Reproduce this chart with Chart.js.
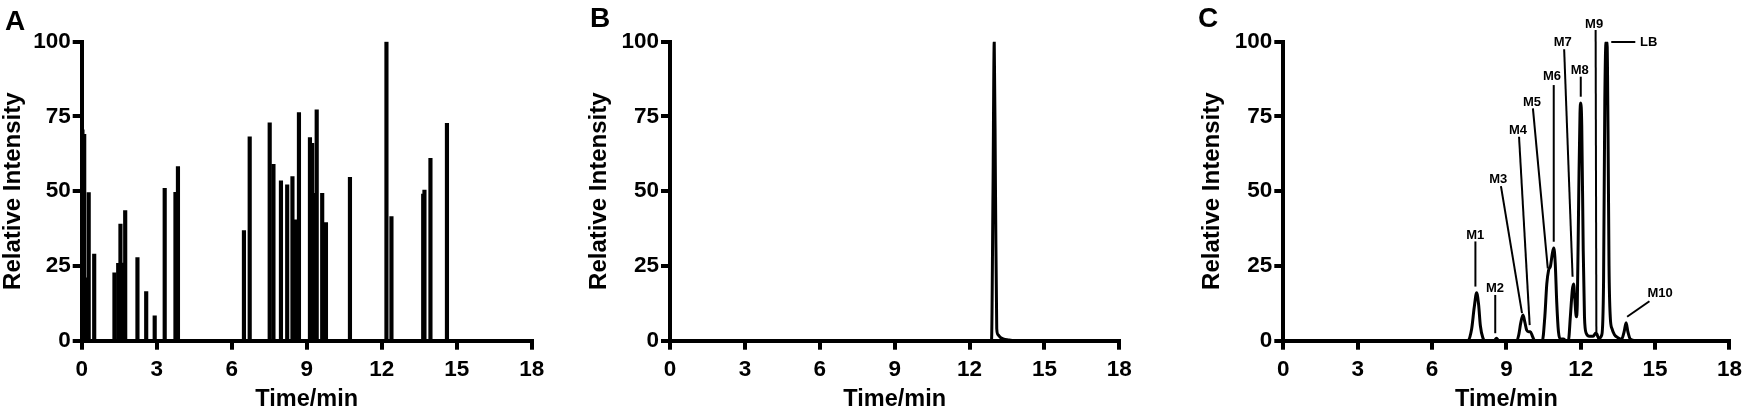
<!DOCTYPE html>
<html><head><meta charset="utf-8">
<script src="https://cdn.jsdelivr.net/npm/chart.js@4/dist/chart.umd.min.js"></script>
<style>
html,body{margin:0;padding:0;background:#fff;width:1749px;height:412px;overflow:hidden}
canvas{position:absolute;top:0}
</style></head><body>
<canvas id="cA" width="580" height="412" style="left:0px"></canvas>
<canvas id="cB" width="580" height="412" style="left:580px"></canvas>
<canvas id="cC" width="589" height="412" style="left:1160px"></canvas>
<script>
// ---------- data ----------
const xTicks = [0, 3, 6, 9, 12, 15, 18];
const yTicks = [0, 25, 50, 75, 100];
const xTitle = 'Time/min';
const yTitle = 'Relative Intensity';
const panelNames = ['A', 'B', 'C'];

// Panel A: spike chromatogram (time, relative intensity)
const aTimes   = [0.03, 0.10, 0.17, 0.28, 0.50, 1.31, 1.46, 1.55, 1.64, 1.74, 2.23, 2.58, 2.92, 3.32, 3.75, 3.85,
                  6.49, 6.72, 7.52, 7.67, 7.97, 8.22, 8.43, 8.54, 8.69, 9.13, 9.22, 9.30, 9.40, 9.62, 9.77,
                  10.73, 12.19, 12.39, 13.66, 13.71, 13.95, 14.61];
const aHeights = [70.5, 69, 21, 49.5, 29, 22.7, 25.9, 39, 26, 43.5, 27.8, 16.4, 8.3, 51, 49.6, 58.2,
                  36.8, 68.2, 72.9, 59, 53.5, 52.1, 54.9, 40.4, 76.3, 67.9, 66, 49.3, 77.2, 49.3, 39.5,
                  54.6, 100, 41.5, 49, 50.4, 61, 72.7];

// Panel B: single peak
const bTimes  = [0, 12.88, 12.94, 12.99, 13.04, 13.09, 13.14, 13.22, 13.35, 13.55, 13.8, 18];
const bValues = [0, 0, 50, 100, 50, 4, 2, 1.2, 0.6, 0.25, 0, 0];

// Panel C: metabolite chromatogram
const cTimes  = [0, 7.45, 7.6, 7.7, 7.8, 7.88, 7.95, 8.05, 8.15, 8.5, 8.6, 8.7, 9.42, 9.5, 9.58, 9.67, 9.75, 9.82,
                 9.9, 9.97, 10.05, 10.15, 10.45, 10.55, 10.63, 10.7, 10.78, 10.85, 10.91, 10.97, 11.03, 11.1,
                 11.18, 11.3, 11.4, 11.5, 11.58, 11.66, 11.71, 11.76, 11.82, 11.86, 11.92, 11.97, 12.0, 12.04,
                 12.1, 12.15, 12.22, 12.35, 12.5, 12.6, 12.65, 12.72, 12.85, 12.92, 12.97, 13.02, 13.06, 13.1,
                 13.14, 13.19, 13.26, 13.36, 13.5, 13.65, 13.75, 13.83, 13.9, 14.0, 14.2, 18];
const cValues = [0, 0, 4, 11, 16, 12, 5, 1, 0, 0, 0.8, 0, 0, 2, 6, 8.6, 6, 3.5,
                 3, 3, 1.5, 0, 0, 8, 19, 23.5, 25, 29, 31, 26, 13, 3,
                 0.5, 0.6, 0, 0, 8, 17, 19, 14, 8, 12, 50, 76, 79.5, 72,
                 30, 8, 2.5, 1.5, 1.5, 2.5, 2.2, 0.8, 2, 20, 80, 100, 100, 70,
                 25, 8, 4, 2, 1, 0.5, 3, 6, 3, 0.5, 0, 0];

// Panel C peak labels
const cPeakNames = ['M1', 'M2', 'M3', 'M4', 'M5', 'M6', 'M7', 'M8', 'M9', 'LB', 'M10'];
// annotation geometry in data units (time, intensity)
const cLabelText = [[7.74, 35.3], [8.54, 17.5], [8.67, 54.1], [9.47, 70.2], [10.03, 79.7], [10.84, 88.3],
                    [11.27, 99.8], [11.96, 90.5], [12.54, 105.9], [14.74, 99.7], [15.2, 15.8]];
const cLeaders   = [[7.75, 33.2, 7.75, 18.1], [8.55, 15.3, 8.55, 2.5], [8.78, 51.7, 9.63, 9.2],
                    [9.51, 68.2, 9.94, 5.2], [10.07, 77.7, 10.67, 24.2], [10.91, 85.5, 10.91, 33.1],
                    [11.33, 97.5, 11.67, 21.4], [12.0, 88.3, 12.0, 81.6], [12.6, 103.9, 12.63, 2.5],
                    [13.23, 99.9, 14.2, 99.9], [14.77, 13.2, 13.87, 8.0]];

// ---------- rendering ----------
const FAM = '"Liberation Sans", Arial, Helvetica, sans-serif';

function letterPlugin(text, x, y) {
  return {
    id: 'panelLetter',
    afterDraw(chart) {
      const ctx = chart.ctx;
      ctx.save();
      ctx.font = 'bold 28px ' + FAM;
      ctx.fillStyle = '#000';
      ctx.textAlign = 'left';
      ctx.textBaseline = 'alphabetic';
      ctx.fillText(text, x, y);
      ctx.restore();
    }
  };
}

const peakLabelPlugin = {
  id: 'peakLabels',
  afterDatasetsDraw(chart) {
    const xs = chart.scales.x, ys = chart.scales.y, ctx = chart.ctx;
    ctx.save();
    ctx.strokeStyle = '#000';
    ctx.fillStyle = '#000';
    ctx.lineWidth = 2;
    ctx.font = 'bold 13px ' + FAM;
    ctx.textAlign = 'center';
    ctx.textBaseline = 'middle';
    cPeakNames.forEach((name, i) => {
      const L = cLeaders[i];
      ctx.beginPath();
      ctx.moveTo(xs.getPixelForValue(L[0]), ys.getPixelForValue(L[1]));
      ctx.lineTo(xs.getPixelForValue(L[2]), ys.getPixelForValue(L[3]));
      ctx.stroke();
      const T = cLabelText[i];
      ctx.fillText(name, xs.getPixelForValue(T[0]), ys.getPixelForValue(T[1]));
    });
    ctx.restore();
  }
};

function axisCommon() {
  return {
    grid: { display: true, drawOnChartArea: false, drawTicks: true, tickLength: 9, lineWidth: 4,
            color: '#000', tickColor: '#000', offset: false },
    border: { display: true, color: '#000', width: 4 },
  };
}

function scales(yWidth) {
  return {
    x: Object.assign(axisCommon(), {
      type: 'linear', min: 0, max: 18, offset: false,
      afterBuildTicks: s => { s.ticks = xTicks.map(v => ({ value: v })); },
      ticks: { color: '#000', font: { family: FAM, size: 22.5, weight: 'bold' }, padding: 7,
               maxRotation: 0, autoSkip: false },
      title: { display: true, text: xTitle, color: '#000',
               font: { family: FAM, size: 23.5, weight: 'bold', lineHeight: 1 }, padding: { top: 0, bottom: 1 } },
      afterFit: s => { s.height = 71.3; }
    }),
    y: Object.assign(axisCommon(), {
      type: 'linear', min: 0, max: 100,
      afterBuildTicks: s => { s.ticks = yTicks.map(v => ({ value: v })); },
      ticks: { color: '#000', font: { family: FAM, size: 22.5, weight: 'bold' }, padding: 2 },
      title: { display: true, text: yTitle, color: '#000',
               font: { family: FAM, size: 24, weight: 'bold', lineHeight: 1 }, padding: { top: 1, bottom: 0 } },
      afterFit: s => { s.width = yWidth; }
    })
  };
}

function baseOptions(pad, yWidth) {
  return {
    responsive: false, animation: false, devicePixelRatio: 1,
    layout: { padding: pad },
    plugins: { legend: { display: false }, tooltip: { enabled: false }, title: { display: false } },
    scales: scales(yWidth)
  };
}

// Panel A
new Chart(document.getElementById('cA'), {
  type: 'bar',
  data: { datasets: [{
    data: aTimes.map((t, i) => ({ x: t, y: aHeights[i] })),
    backgroundColor: '#000', borderWidth: 0, barThickness: 3.5
  }] },
  options: baseOptions({ left: 0, right: 48.3, top: 41.7, bottom: 0 }, 81.7),
  plugins: [letterPlugin(panelNames[0], 5, 30)]
});

// Panel B
new Chart(document.getElementById('cB'), {
  type: 'line',
  data: { datasets: [{
    data: bTimes.map((t, i) => ({ x: t, y: bValues[i] })),
    borderColor: '#000', borderWidth: 3, pointRadius: 0, fill: false, cubicInterpolationMode: 'monotone'
  }] },
  options: baseOptions({ left: 6.7, right: 40.7, top: 41.7, bottom: 0 }, 83.3),
  plugins: [letterPlugin(panelNames[1], 10, 27)]
});

// Panel C
new Chart(document.getElementById('cC'), {
  type: 'line',
  data: { datasets: [{
    data: cTimes.map((t, i) => ({ x: t, y: cValues[i] })),
    borderColor: '#000', borderWidth: 3, pointRadius: 0, fill: false, cubicInterpolationMode: 'monotone'
  }] },
  options: baseOptions({ left: 39.8, right: 15.7, top: 41.7, bottom: 0 }, 83.5),
  plugins: [letterPlugin(panelNames[2], 38, 27), peakLabelPlugin]
});
</script>
</body></html>
